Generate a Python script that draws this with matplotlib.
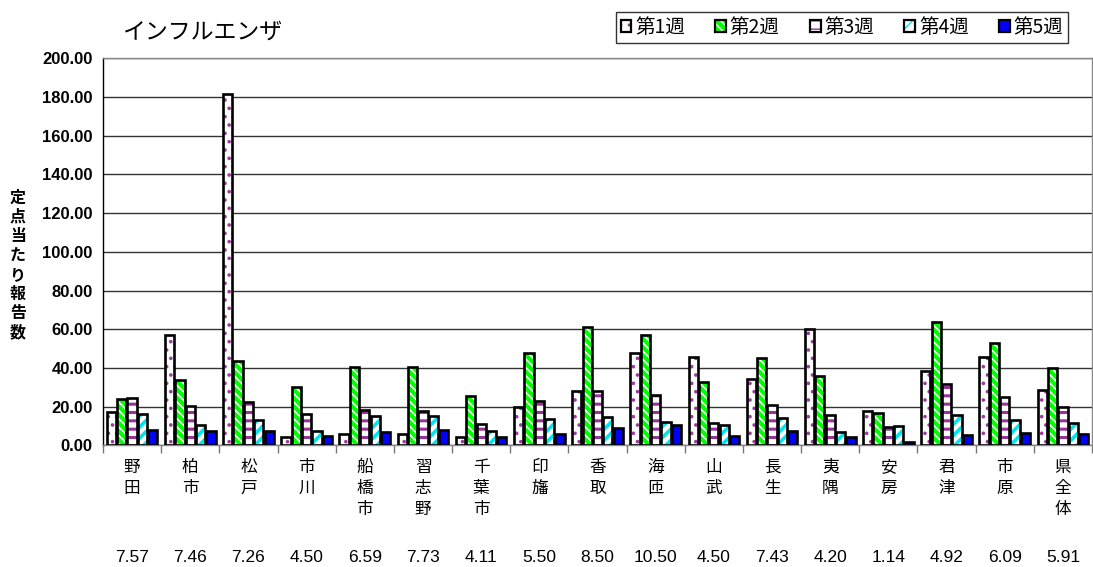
import matplotlib
matplotlib.use("Agg")
import matplotlib.pyplot as plt
import matplotlib.transforms as mtransforms
from matplotlib.patches import Patch
from matplotlib.legend_handler import HandlerTuple
import numpy as np

# ---------------- data ----------------
categories = ['野田', '柏市', '松戸', '市川', '船橋市', '習志野', '千葉市', '印旛', '香取',
              '海匝', '山武', '長生', '夷隅', '安房', '君津', '市原', '県全体']
week1 = [17.4, 57.1, 181.6, 4.3, 5.9, 5.9, 4.3, 20.0, 28.1, 47.6, 45.7, 34.5, 60.2, 17.9, 38.4, 45.5, 28.5]
week2 = [24.1, 33.8, 43.6, 30.3, 40.5, 40.5, 25.7, 47.8, 61.2, 56.9, 32.9, 45.0, 35.9, 16.6, 63.8, 52.9, 39.8]
week3 = [24.7, 20.2, 22.6, 16.1, 18.1, 17.8, 11.1, 23.1, 28.0, 26.2, 11.7, 21.0, 15.5, 9.7, 31.9, 25.2, 19.8]
week4 = [16.4, 10.7, 13.3, 7.6, 15.4, 15.2, 7.3, 13.8, 14.5, 12.1, 10.4, 14.0, 6.8, 9.9, 15.5, 13.3, 11.4]
week5 = [8.0, 7.6, 7.6, 4.7, 6.8, 8.0, 4.3, 5.7, 8.8, 10.7, 4.7, 7.6, 4.5, 1.6, 5.2, 6.2, 6.0]
series_names = ['第1週', '第2週', '第3週', '第4週', '第5週']
bottom_values = [7.57, 7.46, 7.26, 4.50, 6.59, 7.73, 4.11, 5.50, 8.50, 10.50, 4.50, 7.43, 4.20, 1.14, 4.92, 6.09, 5.91]
yticks = [0, 20, 40, 60, 80, 100, 120, 140, 160, 180, 200]
title = 'インフルエンザ'
ylabel = '定点当たり報告数'

# ---------------- style ----------------
W, H = 1093, 567
JP = ['Noto Sans CJK JP', 'DejaVu Sans']
NUM = ['Liberation Sans', 'DejaVu Sans']
plt.rcParams['font.family'] = JP

styles = [
    dict(face='white', hatch='..', hcolor='#A03CA0', hlw=1.4),
    dict(face='#00FF00', hatch='\\\\\\\\', hcolor='white', hlw=1.2),
    dict(face='white', hatch='--', hcolor='#993399', hlw=2.2),
    dict(face='white', hatch='///', hcolor='#00E5F0', hlw=2.6),
    dict(face='#0000FF', hatch=None, hcolor='#0000FF', hlw=1.0),
]

fig = plt.figure(figsize=(W / 100, H / 100), dpi=100)
ax = fig.add_axes([103 / W, (H - 445.4) / H, (1092 - 103) / W, (445.4 - 58.4) / H])

x = np.arange(len(categories))
data = [week1, week2, week3, week4, week5]
step = 0.178
bw = 0.158
handles = []
for k, (vals, st) in enumerate(zip(data, styles)):
    pos = x + (k - 2) * step
    with plt.rc_context({'hatch.linewidth': st['hlw']}):
        ax.bar(pos, vals, width=bw, color=st['face'], edgecolor=st['hcolor'],
               hatch=st['hatch'], linewidth=0, zorder=3)
        p1 = Patch(facecolor=st['face'], edgecolor=st['hcolor'], hatch=st['hatch'], linewidth=0)
    ax.bar(pos, vals, width=bw, fill=False, edgecolor='black', linewidth=1.9, zorder=4)
    p2 = Patch(fill=False, edgecolor='black', linewidth=1.6)
    handles.append((p1, p2))

ax.set_xlim(-0.5, len(categories) - 0.5)
ax.set_ylim(0, 200)
ax.set_yticks(yticks)
ax.set_yticklabels([f'{v:.2f}' for v in yticks], fontfamily=NUM, fontsize=12, fontweight='bold')
ax.tick_params(axis='y', length=0, pad=7.5)
ax.yaxis.grid(True, color='#333333', linewidth=1.0, zorder=0)
ax.set_axisbelow(True)

ax.set_xticks(x)
ax.set_xticklabels([])
ax.tick_params(axis='x', which='major', length=0)
ax.set_xticks(np.arange(len(categories) + 1) - 0.5, minor=True)
ax.tick_params(axis='x', which='minor', length=6, color='#777777', width=1, direction='out')

for side in ['top', 'right', 'bottom']:
    ax.spines[side].set_color('#888888')
    ax.spines[side].set_linewidth(1.0)
ax.spines['left'].set_color('black')
ax.spines['left'].set_linewidth(1.0)

# category labels (vertical stacked)
trans = mtransforms.blended_transform_factory(ax.transData, fig.transFigure)
for xi, name in zip(x, categories):
    fig.text(xi, 1 - 459 / H, '\n'.join(name), transform=trans, ha='center', va='top',
             fontsize=12, linespacing=1.3, family=JP)
for xi, v in zip(x, bottom_values):
    fig.text(xi, 1 - 557 / H, f'{v:.2f}', transform=trans, ha='center', va='center',
             fontsize=12.5, family=NUM)

# y label (stacked)
fig.text(18 / W, 1 - 265 / H, '\n'.join(ylabel), ha='center', va='center',
         fontsize=11.5, linespacing=1.25, family=JP, fontweight='bold')

# title
fig.text(122 / W, 1 - 32 / H, title, ha='left', va='center', fontsize=16.5, family=JP)

leg = fig.legend(handles, series_names, handler_map={tuple: HandlerTuple(ndivide=1)},
                 loc='upper right', bbox_to_anchor=(1068 / W, 1 - 12 / H), ncol=5,
                 fontsize=14, frameon=True, fancybox=False, edgecolor='black',
                 handlelength=0.55, handleheight=0.55, handletextpad=0.2, columnspacing=1.55,
                 borderpad=0.25, borderaxespad=0)
leg.get_frame().set_linewidth(1.0)

fig.savefig('out.png', dpi=100)
